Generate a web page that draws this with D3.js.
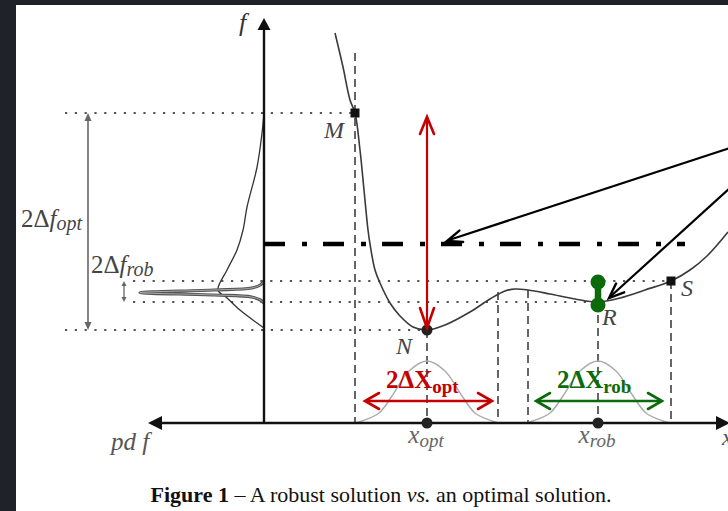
<!DOCTYPE html>
<html><head><meta charset="utf-8">
<script src="https://cdn.jsdelivr.net/npm/d3@7"></script>
<style>
html,body{margin:0;padding:0;background:#1f2329;}
svg{display:block;}
text{font-family:"Liberation Serif","DejaVu Serif",serif;}
</style></head>
<body>
<script>
// ---------- data (x in abscissa units, f in objective units) ----------
const curveX = [3.55,3.95,4.3,4.55,4.8,5.0,5.2,5.3,5.55,5.8,6.3,6.8,7.45,8.15,9.05,10.3,11.3,12.05,12.55,13.2,14.3,15.55,16.7,17.8,19.05,20.35,21.3,22.15,23.2];
const curveF = [19.5,17.8,16.15,15.5,13.65,11.65,9.65,8.95,7.65,7.0,6.0,5.35,4.8,4.65,4.9,5.55,6.2,6.6,6.7,6.65,6.45,6.2,6.05,6.25,6.65,7.1,7.65,8.35,9.55];

const pointNames = ["M","N","R","S"];
const pointX = [4.55, 8.15, 16.7, 20.35];
const pointF = [15.5, 4.65, 6.05, 7.1];

const xOpt = 8.15, xRob = 16.7;
const optInterval = [4.55, 11.7];
const robInterval = [13.2, 20.35];
const dashDotF = 8.95;
const dashDotEndX = 21.05;

// bump shape (offset from centre, height)
const bumpDx = [-3.6,-3.25,-2.4,-1.75,-0.9,0,0.9,1.75,2.4,3.25,3.6];
const bumpH  = [0,0.1,0.5,1.35,2.6,3.1,2.6,1.35,0.5,0.1,0];

// pdf of f around the optimum (wide) and the robust solution (narrow)
const pdfOptF = [15.5,14.5,12.8,10.8,9.65,8.65,7.65,6.65,6.25,5.65,5.0,4.75];
const pdfOptV = [0,0.016,0.056,0.137,0.169,0.218,0.298,0.371,0.298,0.194,0.056,0];
const pdfRobF = [7.1,6.9,6.75,6.65,6.52,6.4,6.3,6.15,6.0];
const pdfRobV = [0,0.03,0.1,0.4,1.0,0.4,0.1,0.03,0];

const caption = ["Figure 1", " – A robust solution ", "vs.", " an optimal solution."];

// ---------- drawing ----------
const W = 728, H = 511;
const svg = d3.select("body").append("svg").attr("width", W).attr("height", H);
svg.append("rect").attr("x",16).attr("y",5).attr("width",W-16).attr("height",H-5).attr("fill","#fff");

const x = d3.scaleLinear().domain([0,23]).range([264,724]);
const y = d3.scaleLinear().domain([0,20]).range([423,23]);
const p = d3.scaleLinear().domain([0,1]).range([264,140]);

const RED = "#c40000", GREEN = "#0b6a0b", GREY = "#555", DARK = "#111";

function head(x1,y1,x2,y2,len,half,color,w,filled){
  const a = Math.atan2(y2-y1,x2-x1);
  const bx = x2 - len*Math.cos(a), by = y2 - len*Math.sin(a);
  const nx = -Math.sin(a)*half, ny = Math.cos(a)*half;
  if (filled) {
    svg.append("path").attr("d",`M${x2},${y2}L${bx+nx},${by+ny}L${bx-nx},${by-ny}Z`).attr("fill",color);
  } else {
    svg.append("path").attr("d",`M${bx+nx},${by+ny}L${x2},${y2}L${bx-nx},${by-ny}`)
      .attr("fill","none").attr("stroke",color).attr("stroke-width",w).attr("stroke-linecap","round").attr("stroke-linejoin","miter");
  }
}
function line(x1,y1,x2,y2,color,w,dash){
  const l = svg.append("line").attr("x1",x1).attr("y1",y1).attr("x2",x2).attr("y2",y2)
    .attr("stroke",color).attr("stroke-width",w);
  if (dash) l.attr("stroke-dasharray",dash);
  return l;
}

const yM = y(pointF[0]), yN = y(pointF[1]), yR = y(pointF[2]), yS = y(pointF[3]);

// dotted horizontal levels
const DOT = "2.2,7.6";
line(65, yM, x(pointX[0]), yM, GREY, 2.2, DOT);
line(133, yS, x(pointX[3]), yS, GREY, 2.2, DOT);
line(133, yR, x(pointX[2]), yR, GREY, 2.2, DOT);
line(65, yN, x(pointX[1]), yN, GREY, 2.2, DOT);

// dashed vertical lines
const DASH = "8,5";
line(x(pointX[0]), y(18.5), x(pointX[0]), y(0), GREY, 1.8, DASH);
line(x(xOpt), yN, x(xOpt), y(0), GREY, 1.8, DASH);
line(x(optInterval[1]), y(6.55), x(optInterval[1]), y(0), GREY, 1.8, DASH);
line(x(robInterval[0]), y(6.65), x(robInterval[0]), y(0), GREY, 1.8, DASH);
line(x(xRob), yR, x(xRob), y(0), GREY, 1.8, DASH);
line(x(robInterval[1]), yS, x(robInterval[1]), y(0), GREY, 1.8, DASH);

// gaussian bumps
const bumpLine = d3.line().curve(d3.curveCatmullRom);
[xOpt, xRob].forEach(c => {
  svg.append("path").attr("d", bumpLine(bumpDx.map((d,i)=>[x(c+d), y(bumpH[i])])))
    .attr("fill","none").attr("stroke","#aaa").attr("stroke-width",1.4);
});

// pdfs on the left
const pdfLine = d3.line().curve(d3.curveCatmullRom);
svg.append("path").attr("d", pdfLine(pdfOptF.map((f,i)=>[p(pdfOptV[i]), y(f)])))
  .attr("fill","none").attr("stroke","#333").attr("stroke-width",1.3);
svg.append("path").attr("d", pdfLine(pdfRobF.map((f,i)=>[p(pdfRobV[i]), y(f)])))
  .attr("fill","none").attr("stroke","#555").attr("stroke-width",3.2);
svg.append("path").attr("d", pdfLine(pdfRobF.map((f,i)=>[p(pdfRobV[i]), y(f)])))
  .attr("fill","none").attr("stroke","#bbb").attr("stroke-width",0.8);

// axes
line(x(0), y(0), x(0), 28, DARK, 2.4);
head(x(0), 40, x(0), 18, 12, 6.5, DARK, 0, true);
line(160, y(0), 716, y(0), DARK, 2.6);
head(200, y(0), 148, y(0), 14, 7, DARK, 0, true);
head(700, y(0), 730, y(0), 14, 7, DARK, 0, true);

// the objective curve
svg.append("path").attr("d", d3.line().curve(d3.curveCatmullRom)(curveX.map((v,i)=>[x(v), y(curveF[i])])))
  .attr("fill","none").attr("stroke","#3a3a3a").attr("stroke-width",1.6);

// dash-dot threshold line
line(x(0), y(dashDotF), x(dashDotEndX), y(dashDotF), "#000", 4.5, "21,17,5,16");

// grey vertical delta arrows
line(88, yM+6, 88, yN-6, "#666", 1.6);
head(88, yN-20, 88, yM, 8, 3.5, "#666", 0, true);
head(88, yM+20, 88, yN, 8, 3.5, "#666", 0, true);
line(124, yS+4, 124, yR-4, "#666", 1.3);
head(124, yR, 124, yS, 5, 2.5, "#666", 0, true);
head(124, yS, 124, yR, 5, 2.5, "#666", 0, true);

// points
svg.append("rect").attr("x", x(pointX[0])-4.5).attr("y", yM-4.5).attr("width",9).attr("height",9).attr("fill","#111");
svg.append("rect").attr("x", x(pointX[3])-4.5).attr("y", yS-4.5).attr("width",9).attr("height",9).attr("fill","#111");
svg.append("circle").attr("cx", x(xOpt)).attr("cy", yN).attr("r",5.5).attr("fill","#222");
svg.append("circle").attr("cx", x(xOpt)).attr("cy", y(0)).attr("r",5.5).attr("fill","#222");
svg.append("circle").attr("cx", x(xRob)).attr("cy", y(0)).attr("r",5.5).attr("fill","#222");

// red vertical arrow
line(x(xOpt), y(15.2), x(xOpt), yN-2, RED, 2.2);
head(x(xOpt), yN, x(xOpt), y(15.3), 17, 7, RED, 2.6, false);
head(x(xOpt), y(15.3), x(xOpt), yN-2, 20, 7, RED, 2.6, false);

// green dumbbell at R
line(x(xRob), yS+1, x(xRob), yR+3, GREEN, 6.5);
svg.append("circle").attr("cx", x(xRob)).attr("cy", yS+1).attr("r",7.5).attr("fill",GREEN);
svg.append("circle").attr("cx", x(xRob)).attr("cy", yR+3).attr("r",7.5).attr("fill",GREEN);

// black pointer arrows
line(730, 148, 449, 240, "#000", 2.2);
head(730, 148, 447, 241, 15, 6, "#000", 2.4, false);
line(730, 188, 611, 296, "#000", 2.2);
head(730, 188, 609, 298, 15, 6, "#000", 2.4, false);

// horizontal interval arrows
const yArr = 401;
line(366, yArr, 492, yArr, RED, 2.6);
head(492, yArr, 365, yArr, 14, 8, RED, 2.6, false);
head(365, yArr, 492, yArr, 14, 8, RED, 2.6, false);
line(537, yArr, 662, yArr, GREEN, 2.6);
head(662, yArr, 536, yArr, 14, 8, GREEN, 2.6, false);
head(536, yArr, 662, yArr, 14, 8, GREEN, 2.6, false);

// ---------- labels ----------
function label(tx, ty, parts, size, color, opts={}){
  const t = svg.append("text").attr("x",tx).attr("y",ty).attr("fill",color).attr("font-size",size)
    .attr("text-anchor", opts.anchor || "start");
  parts.forEach(pt => {
    const s = t.append("tspan").text(pt.t);
    if (pt.italic) s.attr("font-style","italic");
    if (pt.bold) s.attr("font-weight","bold");
    if (pt.size) s.attr("font-size",pt.size);
    if (pt.dy) s.attr("dy",pt.dy);
  });
  return t;
}
const LAB = "#444";
label(239, 31, [{t:"f",italic:true}], 26, "#333");
label(324, 138, [{t:pointNames[0],italic:true}], 24, LAB);
label(396, 354, [{t:pointNames[1],italic:true}], 24, LAB);
label(602, 325, [{t:pointNames[2],italic:true}], 24, LAB);
label(681, 296, [{t:pointNames[3],italic:true}], 24, LAB);
label(x(xOpt)-1, 443, [{t:"x",italic:true},{t:"opt",italic:true,size:19,dy:4}], 25, "#666", {anchor:"middle"});
label(x(xRob)-1, 443, [{t:"x",italic:true},{t:"rob",italic:true,size:19,dy:4}], 25, "#666", {anchor:"middle"});
label(111, 450, [{t:"pd",italic:true},{t:" f",italic:true}], 25, "#555");
label(722, 445, [{t:"x",italic:true}], 24, "#555");
label(21, 227, [{t:"2Δ"},{t:"f",italic:true},{t:"opt",italic:true,size:20,dy:3}], 25, "#444");
label(91, 273, [{t:"2Δ"},{t:"f",italic:true},{t:"rob",italic:true,size:20,dy:3}], 25, "#444");
label(386, 388, [{t:"2ΔX",bold:true},{t:"opt",bold:true,size:19,dy:5}], 25, RED);
label(557, 388, [{t:"2ΔX",bold:true},{t:"rob",bold:true,size:19,dy:5}], 25, GREEN);

const cap = label(381, 502, [
  {t:caption[0],bold:true},{t:caption[1]},{t:caption[2],italic:true},{t:caption[3]}
], 22, "#111", {anchor:"middle"});
</script>
</body></html>
